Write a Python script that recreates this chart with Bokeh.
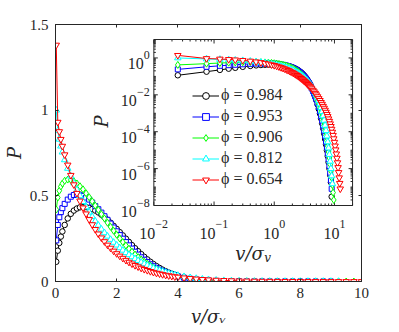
import math
from bokeh.plotting import figure
from bokeh.models import (Range1d, LinearAxis, LogScale, FixedTicker, Legend, LegendItem,
                          CustomJSTickFormatter)
from bokeh.core.properties import value
from bokeh.embed import file_html
from bokeh.resources import INLINE

# ---------------- data ----------------
PHI = ["0.984", "0.953", "0.906", "0.812", "0.654"]

V = [0.025, 0.075, 0.125, 0.175, 0.225,
     0.3, 0.4, 0.5, 0.6, 0.7, 0.8, 0.9, 1.0,
     1.1, 1.2, 1.3, 1.4, 1.5, 1.6, 1.7, 1.8, 1.9, 2.0,
     2.1, 2.2, 2.3, 2.4, 2.5, 2.6, 2.7, 2.8, 2.9, 3.0,
     3.1, 3.2, 3.3, 3.4, 3.5, 3.6, 3.7, 3.8, 3.9, 4.0,
     4.2, 4.4, 4.6, 4.8, 5.0,
     5.25, 5.5, 5.75, 6.0, 6.25, 6.5, 6.75, 7.0, 7.25, 7.5, 7.75, 8.0,
     8.25, 8.5, 8.75, 9.0, 9.25, 9.5, 9.75, 10.0, 10.25, 10.5, 10.75, 11.0,
     11.25, 11.5, 11.75, 12.0, 12.25, 12.5]

P_0984 = [0.115, 0.18, 0.225, 0.262, 0.292,
          0.33, 0.368, 0.395, 0.414, 0.426, 0.433, 0.435, 0.434,
          0.43, 0.423, 0.414, 0.403, 0.39, 0.376, 0.36, 0.343, 0.325, 0.307,
          0.288, 0.269, 0.25, 0.231, 0.212, 0.194, 0.177, 0.16, 0.144, 0.129,
          0.115, 0.102, 0.09, 0.079, 0.069, 0.06, 0.052, 0.045, 0.039, 0.033,
          0.024, 0.017, 0.0115, 0.0078, 0.0052,
          0.003, 0.0017, 9.5e-4, 5.2e-4, 2.8e-4, 1.5e-4, 7.8e-5, 4e-5, 2e-5, 9.8e-6, 4.7e-6, 2.2e-6,
          1e-6, 4.4e-7, 1.8e-7, 3e-8]

P_0953 = [0.24, 0.33, 0.375, 0.405, 0.428,
          0.453, 0.478, 0.495, 0.505, 0.508, 0.506, 0.50, 0.49,
          0.478, 0.461, 0.44, 0.422, 0.402, 0.381, 0.36, 0.338, 0.315, 0.293,
          0.271, 0.25, 0.23, 0.211, 0.192, 0.174, 0.157, 0.141, 0.127, 0.113,
          0.1, 0.089, 0.079, 0.069, 0.061, 0.053, 0.046, 0.04, 0.035, 0.03,
          0.022, 0.016, 0.0115, 0.0082, 0.0058,
          0.0036, 0.0022, 0.0013, 7.2e-4, 4e-4, 2.2e-4, 1.15e-4, 6e-5, 3e-5, 1.5e-5, 7e-6, 3.2e-6,
          1.4e-6, 6e-7, 2.3e-7, 8e-8]

P_0906 = [0.42, 0.49, 0.53, 0.555, 0.572,
          0.588, 0.595, 0.593, 0.585, 0.572, 0.556, 0.538, 0.515,
          0.492, 0.468, 0.443, 0.418, 0.393, 0.368, 0.343, 0.319, 0.296, 0.273,
          0.251, 0.23, 0.21, 0.191, 0.174, 0.157, 0.142, 0.128, 0.115, 0.103,
          0.092, 0.082, 0.073, 0.065, 0.057, 0.051, 0.045, 0.04, 0.035, 0.031,
          0.024, 0.0182, 0.0136, 0.0101, 0.0074,
          0.0049, 0.0031, 0.0019, 0.00115, 6.8e-4, 3.9e-4, 2.2e-4, 1.2e-4, 6.4e-5, 3.3e-5, 1.65e-5, 8e-6,
          3.8e-6, 1.7e-6, 7.5e-7, 3.2e-7, 1.3e-7, 5e-8, 2e-8]

P_0812 = [1.0, 0.88, 0.83, 0.79, 0.755,
          0.71, 0.66, 0.615, 0.575, 0.535, 0.5, 0.466, 0.435,
          0.405, 0.378, 0.352, 0.328, 0.305, 0.284, 0.264, 0.245, 0.228, 0.212,
          0.196, 0.182, 0.168, 0.156, 0.144, 0.133, 0.122, 0.112, 0.103, 0.094,
          0.086, 0.078, 0.071, 0.065, 0.059, 0.053, 0.048, 0.043, 0.039, 0.035,
          0.028, 0.022, 0.0172, 0.0133, 0.0102,
          0.0072, 0.0049, 0.0032, 0.002, 0.00122, 7.2e-4, 4.1e-4, 2.2e-4, 1.15e-4, 5.8e-5, 2.8e-5, 1.3e-5,
          5.8e-6, 2.5e-6, 1e-6, 4e-7, 1.5e-7]

P_0654 = [1.38, 0.93, 0.875, 0.83, 0.79,
          0.74, 0.68, 0.62, 0.565, 0.515, 0.47, 0.43, 0.395,
          0.362, 0.332, 0.304, 0.278, 0.255, 0.233, 0.213, 0.195, 0.178, 0.163,
          0.149, 0.136, 0.124, 0.113, 0.103, 0.094, 0.086, 0.078, 0.071, 0.065,
          0.059, 0.054, 0.049, 0.045, 0.041, 0.037, 0.034, 0.031, 0.028, 0.026,
          0.0215, 0.0178, 0.0148, 0.0122, 0.0101,
          0.008, 0.0063, 0.005, 0.0039, 0.0031, 0.0024, 0.0019, 0.00148, 0.00115, 8.8e-4, 6.7e-4, 5e-4,
          3.7e-4, 2.7e-4, 1.95e-4, 1.38e-4, 9.5e-5, 6.4e-5, 4.2e-5, 2.7e-5, 1.7e-5, 1.05e-5, 6.3e-6, 3.7e-6,
          2.1e-6, 1.15e-6, 6.2e-7, 3.2e-7, 1.6e-7, 8e-8]

SERIES = [P_0984, P_0953, P_0906, P_0812, P_0654]
MAIN_XTICKS = [0, 2, 4, 6, 8, 10]
MAIN_YTICKS = [0, 0.5, 1, 1.5]
INSET_XTICKS = [0.01, 0.1, 1, 10]
INSET_XEXP = ["\u22122", "\u22121", "0", "1"]
INSET_YTICKS = [1e-8, 1e-6, 1e-4, 1e-2, 1]
INSET_YEXP = ["\u22128", "\u22126", "\u22124", "\u22122", "0"]
INSET_XLIM = (0.01, 20)
INSET_YLIM = (1e-8, 10)

# ---------------- styles / layout ----------------
COLORS = ["#000000", "#0000ff", "#00ff00", "#00ffff", "#ff0000"]
MARKERS = ["circle", "square", "diamond", "triangle", "inverted_triangle"]
SIZES = [5.5, 5, 7, 6.5, 6.5]
AX = "#262626"
TICK_FONT = "Liberation Serif"
MATH_FONT = "DejaVu Serif"

W, H = 395, 330
BL, BT = 53, 24
BR, BB = W - 361, H - 281
FW, FH = W - BL - BR, H - BT - BB          # frame size in px
# inset box inside the frame (px from frame left / top)
IL, IR, IT, IB = 99, 299, 15, 181

lx0, lx1 = math.log10(INSET_XLIM[0]), math.log10(INSET_XLIM[1])
ly0, ly1 = math.log10(INSET_YLIM[0]), math.log10(INSET_YLIM[1])
PX = (lx1 - lx0) / (IR - IL)               # decades per px
PY = (ly1 - ly0) / (IB - IT)
ix_range = Range1d(10 ** (lx0 - IL * PX), 10 ** (lx1 + (FW - IR) * PX))
iy_range = Range1d(10 ** (ly0 - (FH - IB) * PY), 10 ** (ly1 + IT * PY))

blank = CustomJSTickFormatter(code="return ''")
plain = CustomJSTickFormatter(code="return String(tick)")


def style_axis(ax, ticks, font_size="15px", standoff=6):
    ax.ticker = FixedTicker(ticks=ticks)
    ax.axis_line_color = AX
    ax.major_tick_line_color = AX
    ax.major_tick_in = 3
    ax.major_tick_out = 0
    ax.minor_tick_line_color = None
    ax.major_label_text_font = TICK_FONT
    ax.major_label_text_font_size = font_size
    ax.major_label_text_color = AX
    ax.major_label_standoff = standoff


# ---------------- main figure ----------------
p = figure(width=W, height=H, x_range=Range1d(0, 10), y_range=Range1d(0, 1.5),
           output_backend="svg", toolbar_location=None,
           min_border_left=BL, min_border_right=BR, min_border_top=BT, min_border_bottom=BB)
p.extra_x_ranges = {"ix": ix_range}
p.extra_y_ranges = {"iy": iy_range}
p.extra_x_scales = {"ix": LogScale()}
p.extra_y_scales = {"iy": LogScale()}
p.grid.visible = False
p.outline_line_color = AX
p.outline_line_alpha = 1

style_axis(p.xaxis[0], MAIN_XTICKS, standoff=6)
p.xaxis[0].formatter = plain
p.xaxis[0].axis_label = "v/σᵥ"
p.xaxis[0].axis_label_standoff = 5
style_axis(p.yaxis[0], MAIN_YTICKS, standoff=7)
p.yaxis[0].formatter = plain
p.yaxis[0].axis_label = "P"
p.yaxis[0].axis_label_standoff = 2
for ax in (p.xaxis[0], p.yaxis[0]):
    ax.axis_label_text_font = MATH_FONT
    ax.axis_label_text_font_style = "italic"
    ax.axis_label_text_font_size = "18px"
    ax.axis_label_text_color = AX

top_ax = LinearAxis(formatter=blank)
style_axis(top_ax, MAIN_XTICKS, font_size="0px", standoff=0)
p.add_layout(top_ax, "above")
right_ax = LinearAxis(formatter=blank)
style_axis(right_ax, MAIN_YTICKS, font_size="0px", standoff=0)
p.add_layout(right_ax, "right")

for P, c, m, s in zip(SERIES, COLORS, MARKERS, SIZES):
    x = V[:len(P)]
    p.line(x, P, line_color=c, line_width=1)
    p.scatter(x, P, marker=m, size=s, line_color=c, fill_color="white", line_width=1)

# ---------------- inset (log-log, drawn in the same canvas) ----------------
IK = dict(x_range_name="ix", y_range_name="iy")
p.quad(left=INSET_XLIM[0], right=INSET_XLIM[1], bottom=INSET_YLIM[0], top=INSET_YLIM[1],
       fill_color="white", line_color=AX, line_width=1, **IK)

xminor = [mm * 10.0 ** k for k in (-2, -1, 0, 1) for mm in range(2, 10) if mm * 10.0 ** k <= INSET_XLIM[1]]
yminor = [mm * 10.0 ** k for k in range(-8, 1) for mm in range(2, 10)] + [1e-7, 1e-5, 1e-3, 1e-1]
sx0, sy0, sx1, sy1 = [], [], [], []
for ticks, ln in ((INSET_XTICKS, 4), (xminor, 2)):
    for t in ticks:
        sx0 += [t, t]; sx1 += [t, t]
        sy0 += [INSET_YLIM[0], INSET_YLIM[1]]
        sy1 += [10 ** (ly0 + ln * PY), 10 ** (ly1 - ln * PY)]
for ticks, ln in ((INSET_YTICKS, 4), (yminor, 2)):
    for t in ticks:
        sy0 += [t, t]; sy1 += [t, t]
        sx0 += [INSET_XLIM[0], INSET_XLIM[1]]
        sx1 += [10 ** (lx0 + ln * PX), 10 ** (lx1 - ln * PX)]
p.segment(sx0, sy0, sx1, sy1, line_color=AX, line_width=1, **IK)

# tick labels: "10" with raised exponent
BASE_W = 16.0
def exp_w(e):
    return sum(7.0 if ch == "\u2212" else 6.0 for ch in e)

bxo = [-(BASE_W + exp_w(e)) / 2 for e in INSET_XEXP]
exo = [o + BASE_W for o in bxo]
p.text(x=INSET_XTICKS, y=[INSET_YLIM[0]] * len(INSET_XTICKS), text=["10"] * len(INSET_XTICKS),
       x_offset=bxo, y_offset=28,
       text_align="left", text_baseline="alphabetic", text_font=value(TICK_FONT),
       text_font_size="16px", text_color=AX, **IK)
p.text(x=INSET_XTICKS, y=[INSET_YLIM[0]] * len(INSET_XTICKS), text=INSET_XEXP,
       x_offset=exo, y_offset=18,
       text_align="left", text_baseline="alphabetic", text_font=value(TICK_FONT),
       text_font_size="12px", text_color=AX, **IK)

p.text(x=[INSET_XLIM[0]] * len(INSET_YTICKS), y=INSET_YTICKS, text=["10"] * len(INSET_YTICKS),
       x_offset=[-4 - exp_w(e) for e in INSET_YEXP], y_offset=5.5,
       text_align="right", text_baseline="alphabetic", text_font=value(TICK_FONT),
       text_font_size="16px", text_color=AX, **IK)
p.text(x=[INSET_XLIM[0]] * len(INSET_YTICKS), y=INSET_YTICKS, text=INSET_YEXP,
       x_offset=-4, y_offset=-3,
       text_align="right", text_baseline="alphabetic", text_font=value(TICK_FONT),
       text_font_size="12px", text_color=AX, **IK)

# inset axis labels
xmid = 10 ** ((lx0 + lx1) / 2)
p.text(x=[xmid], y=[INSET_YLIM[0]], text=["v/σ"], x_offset=-18, y_offset=48,
       text_align="left", text_baseline="alphabetic", text_font=value(MATH_FONT),
       text_font_style="italic", text_font_size="18px", text_color=AX, **IK)
p.text(x=[xmid], y=[INSET_YLIM[0]], text=["v"], x_offset=11, y_offset=52,
       text_align="left", text_baseline="alphabetic", text_font=value(MATH_FONT),
       text_font_style="italic", text_font_size="12px", text_color=AX, **IK)
p.text(x=[INSET_XLIM[0]], y=[10 ** (ly1 - (121 - 39) * PY)], text=["P"], x_offset=-52,
       angle=math.pi / 2, text_align="center", text_baseline="middle", text_font=value(MATH_FONT),
       text_font_style="italic", text_font_size="18px", text_color=AX, **IK)

items = []
for P, c, m, s, ph in zip(SERIES, COLORS, MARKERS, SIZES, PHI):
    x = V[:len(P)]
    ln = p.line(x, P, line_color=c, line_width=1, **IK)
    sc = p.scatter(x, P, marker=m, size=s, line_color=c, fill_color="white", line_width=1, **IK)
    items.append(LegendItem(label="ϕ = " + ph, renderers=[ln, sc]))

legend = Legend(items=items, location=(137, 93), orientation="vertical",
                glyph_width=27, glyph_height=17, label_height=17, label_standoff=2,
                spacing=3, padding=0, margin=0, border_line_color=None,
                background_fill_alpha=0, label_text_font=TICK_FONT,
                label_text_font_size="16px", label_text_color=AX)
p.add_layout(legend)

open("out.html", "w").write(file_html(p, INLINE))
